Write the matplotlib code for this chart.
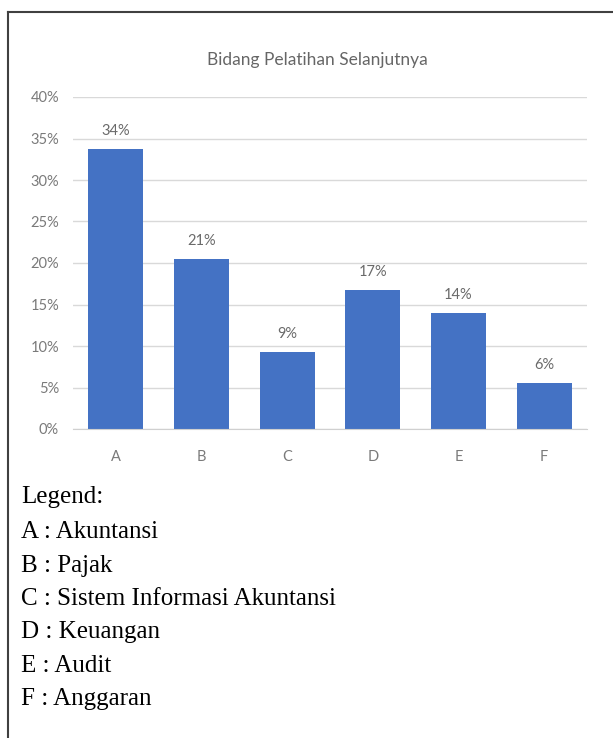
import matplotlib
matplotlib.use("Agg")
import matplotlib.pyplot as plt
from matplotlib.lines import Line2D
from matplotlib.ticker import PercentFormatter

categories = ["A", "B", "C", "D", "E", "F"]
values = [33.7, 20.5, 9.3, 16.8, 14.0, 5.6]
value_labels = ["34%", "21%", "9%", "17%", "14%", "6%"]
yticks = [0, 5, 10, 15, 20, 25, 30, 35, 40]
title = "Bidang Pelatihan Selanjutnya"
legend_lines = ["Legend:", "A : Akuntansi", "B : Pajak", "C : Sistem Informasi Akuntansi",
                "D : Keuangan", "E : Audit", "F : Anggaran"]

W, H = 613, 738
fig = plt.figure(figsize=(W / 100, H / 100), dpi=100)
fig.patch.set_facecolor("white")

sans = ["Lato", "DejaVu Sans"]
ax = fig.add_axes([73 / W, 1 - 429 / H, 514 / W, 332 / H])
x = range(len(categories))
bars = ax.bar(x, values, width=0.64, color="#4472C4", zorder=3)
ax.set_xlim(-0.5, len(categories) - 0.5)
ax.set_ylim(0, 40)
ax.set_yticks(yticks)
ax.yaxis.set_major_formatter(PercentFormatter(decimals=0))
ax.set_xticks(list(x))
ax.set_xticklabels(categories)
ax.grid(axis="y", color="#D9D9D9", linewidth=1.0, zorder=0)
for s in ["top", "right", "left"]:
    ax.spines[s].set_visible(False)
ax.spines["bottom"].set_color("#D0D0D0")
ax.spines["bottom"].set_zorder(4)
ax.tick_params(axis="both", length=0, colors="#7A7A7A", labelsize=10.5)
ax.tick_params(axis="y", pad=10)
ax.tick_params(axis="x", pad=15)
for lab in ax.get_xticklabels() + ax.get_yticklabels():
    lab.set_family(sans)

for b, lbl in zip(bars, value_labels):
    ax.annotate(lbl, (b.get_x() + b.get_width() / 2, b.get_height()),
                xytext=(0, 11), textcoords="offset pixels",
                ha="center", va="bottom", fontsize=10.5, color="#6A6A6A", family=sans)

fig.text(317 / W, 1 - 60 / H, title, ha="center", va="center", fontsize=12.5,
         color="#666666", family=sans)

baselines = [503, 538, 572, 605, 638, 672, 705]
for yb, t in zip(baselines, legend_lines):
    fig.text(21 / W, 1 - yb / H, t, ha="left", va="baseline", fontsize=18,
             color="black", family=["Liberation Serif", "DejaVu Serif"])

# frame (only left and top visible in the crop)
fig.add_artist(Line2D([8 / W, 8 / W], [0, 1 - 12 / H], color="#404040", linewidth=1.5,
                      transform=fig.transFigure))
fig.add_artist(Line2D([8 / W, 1], [1 - 12 / H, 1 - 12 / H], color="#404040", linewidth=1.5,
                      transform=fig.transFigure))

fig.savefig("out.png", dpi=100)
